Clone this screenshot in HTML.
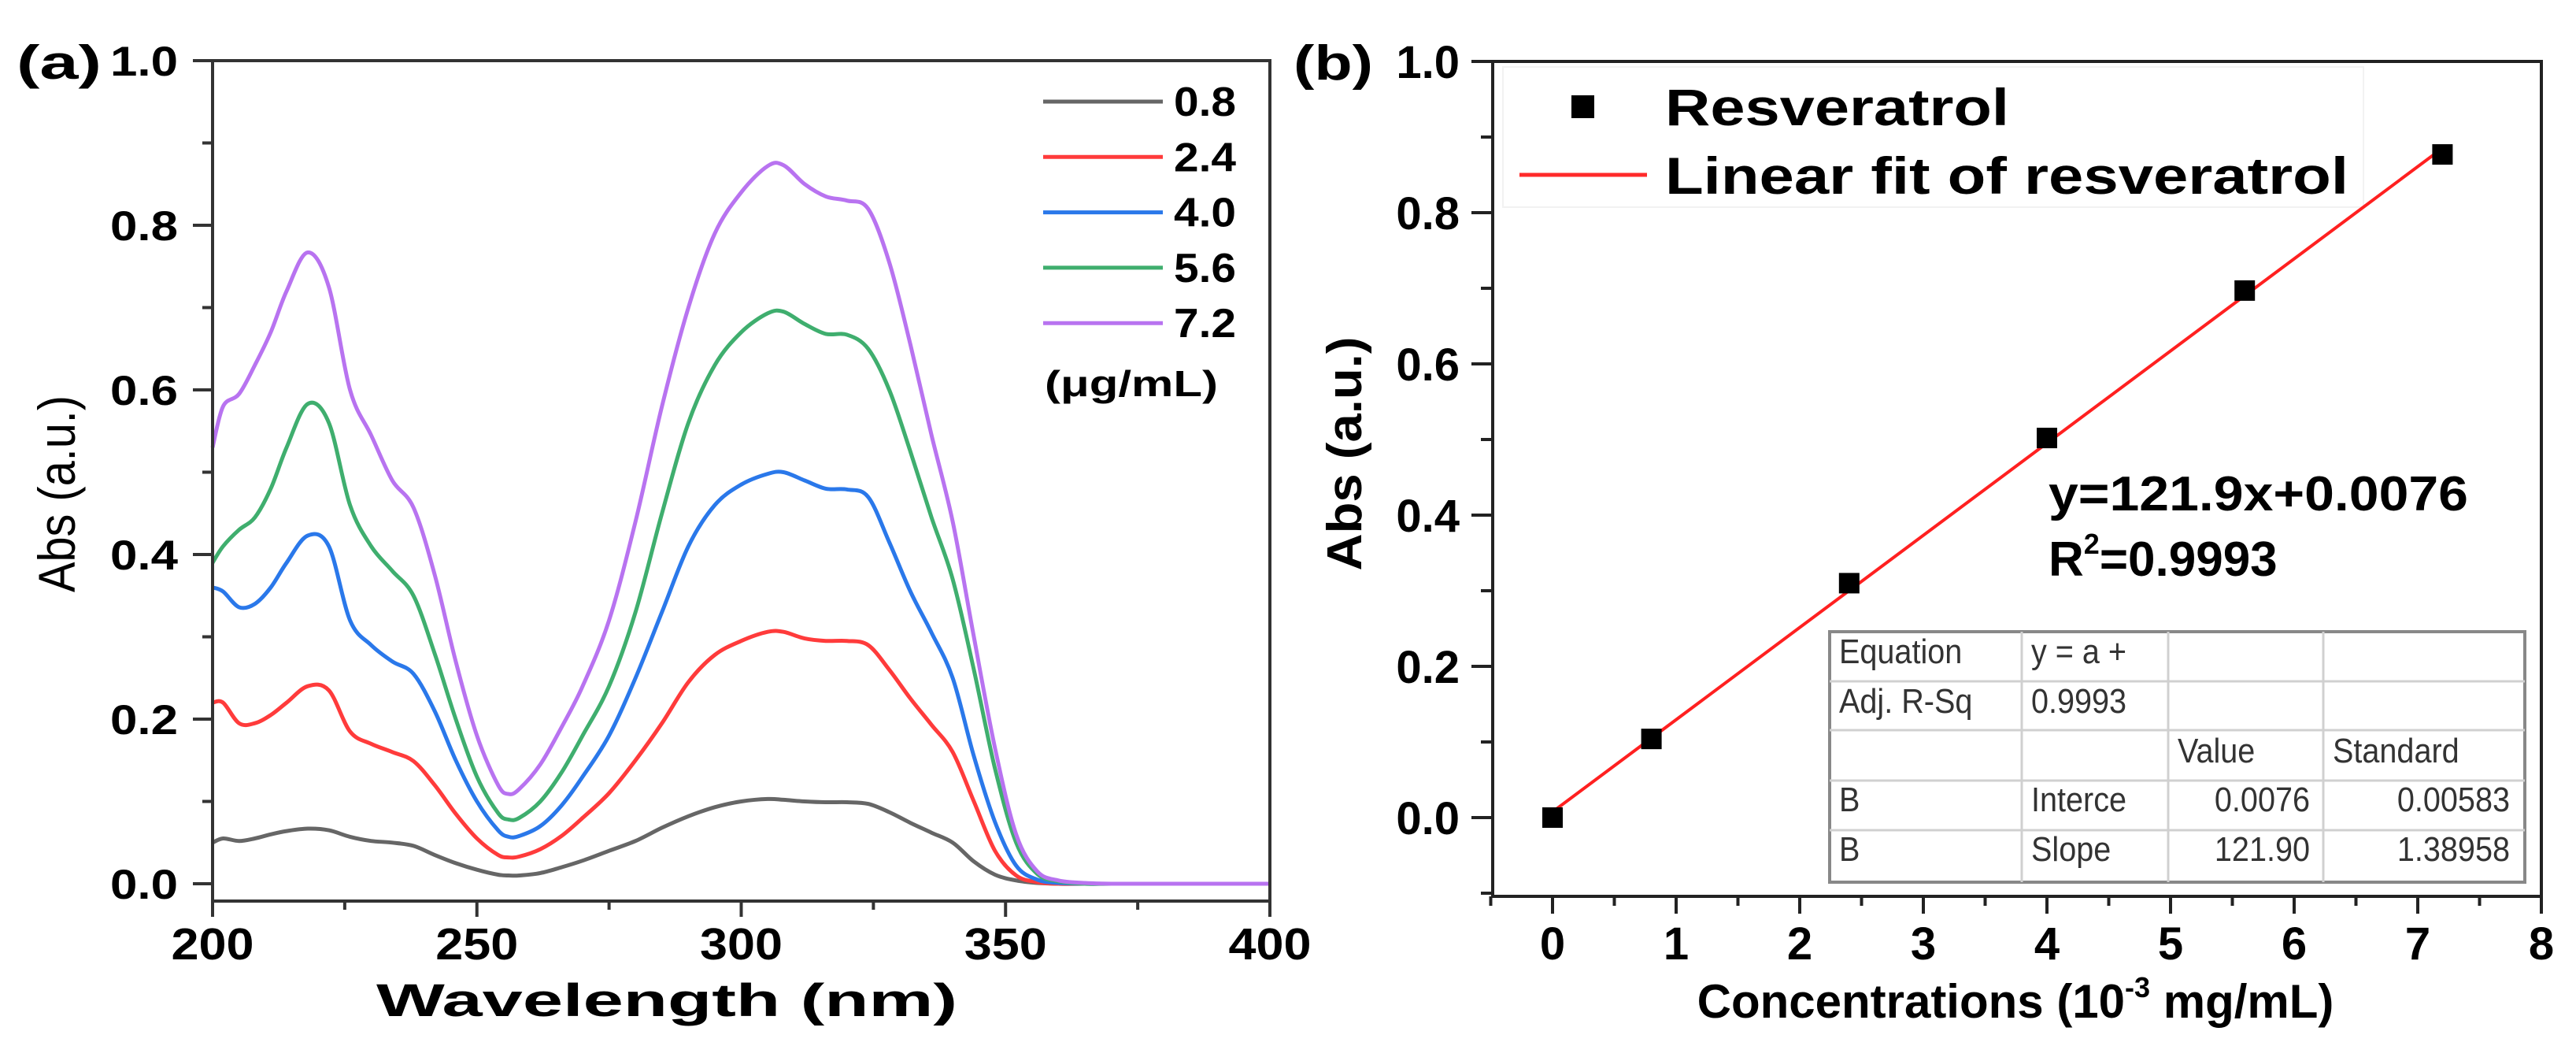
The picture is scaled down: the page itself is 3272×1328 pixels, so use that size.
<!DOCTYPE html>
<html><head><meta charset="utf-8"><style>
html,body{margin:0;padding:0;background:#fff;}
svg{display:block;font-family:"Liberation Sans",Arial,sans-serif;}
</style></head><body>
<svg id="fig" width="3272" height="1328" viewBox="0 0 3272 1328" xmlns="http://www.w3.org/2000/svg">
<g id="pa"></g>
<g id="pb"></g>
</svg>
<script>
// ---------- Panel (a) data ----------
const wavelengths = [200,202,205,208,211,214,218,222,226,230,234,238,242,246,250,254,256,258,262,266,270,275,280,285,290,295,300,305,308,312,316,320,324,328,332,336,340,344,348,352,356,360,365,370,380,390,400];
const seriesLabels = ["0.8","2.4","4.0","5.6","7.2"];
const abs08 = [0.05,0.055,0.052,0.055,0.06,0.064,0.067,0.065,0.057,0.052,0.05,0.046,0.035,0.025,0.017,0.011,0.01,0.01,0.013,0.02,0.028,0.04,0.052,0.068,0.082,0.093,0.1,0.103,0.102,0.1,0.099,0.099,0.097,0.087,0.074,0.062,0.05,0.027,0.011,0.004,0.001,0,0,0,0,0,0];
const abs24 = [0.22,0.22,0.195,0.195,0.205,0.22,0.24,0.235,0.185,0.17,0.16,0.149,0.12,0.085,0.055,0.035,0.032,0.033,0.042,0.058,0.08,0.11,0.15,0.195,0.245,0.278,0.295,0.306,0.306,0.298,0.295,0.295,0.29,0.26,0.225,0.193,0.16,0.1,0.04,0.01,0.002,0,0,0,0,0,0];
const abs40 = [0.36,0.355,0.336,0.34,0.36,0.39,0.423,0.41,0.32,0.29,0.27,0.255,0.21,0.15,0.1,0.065,0.057,0.058,0.07,0.095,0.13,0.18,0.25,0.33,0.41,0.46,0.485,0.498,0.5,0.49,0.48,0.479,0.47,0.415,0.355,0.305,0.25,0.155,0.075,0.022,0.005,0.001,0,0,0,0,0];
const abs56 = [0.39,0.41,0.43,0.445,0.48,0.53,0.583,0.56,0.46,0.41,0.38,0.35,0.28,0.2,0.13,0.086,0.078,0.08,0.1,0.135,0.18,0.24,0.33,0.45,0.56,0.63,0.67,0.693,0.695,0.68,0.668,0.667,0.65,0.6,0.525,0.445,0.37,0.26,0.14,0.05,0.012,0.003,0,0,0,0,0];
const abs72 = [0.53,0.58,0.595,0.63,0.67,0.72,0.767,0.725,0.6,0.545,0.49,0.457,0.376,0.27,0.18,0.12,0.109,0.115,0.145,0.19,0.24,0.32,0.44,0.58,0.7,0.79,0.84,0.872,0.873,0.85,0.835,0.83,0.82,0.755,0.655,0.545,0.44,0.3,0.165,0.06,0.015,0.004,0.001,0,0,0,0];
const aXTicks = [200,250,300,350,400];
const aYTicks = ["0.0","0.2","0.4","0.6","0.8","1.0"];

// ---------- Panel (b) data ----------
const concentrations = [0,0.8,2.4,4.0,5.6,7.2];
const absMeasured = [0.0,0.104,0.31,0.502,0.697,0.877];
const fitSlope = [0.1219];
const fitIntercept = [0.0076];
const bXTicks = ["0","1","2","3","4","5","6","7","8"];
const bYTicks = ["0.0","0.2","0.4","0.6","0.8","1.0"];

const NS="http://www.w3.org/2000/svg";
function mk(parent,tag,attrs,text){const e=document.createElementNS(NS,tag);for(const k in attrs)e.setAttribute(k,attrs[k]);if(text!==undefined)e.textContent=text;parent.appendChild(e);return e;}

// ================= Panel A =================
const pa=document.getElementById('pa');
const aX0=270,aX1=1613,aYtop=77,aYbot=1144;
const ax=v=>aX0+(v-200)*(aX1-aX0)/200;
const ay=v=>1122-v*1045;
const colors=["#666666","#ff3b3b","#2a78ea","#3fae6e","#b873f0"];
const allSeries=[abs08,abs24,abs40,abs56,abs72];

function smoothPath(xs,ys){
  let d="M"+xs[0].toFixed(1)+","+ys[0].toFixed(1);
  for(let i=0;i<xs.length-1;i++){
    const x0=xs[Math.max(i-1,0)],y0=ys[Math.max(i-1,0)],x1=xs[i],y1=ys[i],x2=xs[i+1],y2=ys[i+1],x3=xs[Math.min(i+2,xs.length-1)],y3=ys[Math.min(i+2,xs.length-1)];
    const c1x=x1+(x2-x0)/6,c1y=y1+(y2-y0)/6,c2x=x2-(x3-x1)/6,c2y=y2-(y3-y1)/6;
    d+=" C"+c1x.toFixed(1)+","+c1y.toFixed(1)+" "+c2x.toFixed(1)+","+c2y.toFixed(1)+" "+x2.toFixed(1)+","+y2.toFixed(1);
  }
  return d;
}
allSeries.forEach((s,i)=>{
  const p=mk(pa,'path',{d:smoothPath(wavelengths.map(ax),s.map(ay)),fill:'none',stroke:colors[i],'stroke-width':5,'stroke-linejoin':'round'});
  
  
});
let fr=mk(pa,'path',{d:`M${aX0},${aYtop} V${aYbot} H${aX1} V${aYtop} H${aX0}`,fill:'none',stroke:'#333','stroke-width':4});


for(let k=0;k<=10;k++){
  const v=k/10,y=ay(v),major=k%2===0;
  const t=mk(pa,'line',{x1:aX0-(major?25:13),x2:aX0,y1:y,y2:y,stroke:'#333','stroke-width':4});
  
  
  if(major){
    const lb=mk(pa,'text',{x:226,y:y+19,'text-anchor':'end','font-size':53,'font-weight':'bold',textLength:86,lengthAdjust:'spacingAndGlyphs'},aYTicks[k/2]);
    
    
  }
}
for(let v=200;v<=400;v+=25){
  const x=ax(v),major=v%50===0;
  const t=mk(pa,'line',{x1:x,x2:x,y1:aYbot,y2:aYbot+(major?20:11),stroke:'#333','stroke-width':4});
  
  
}
aXTicks.forEach(v=>{
  const lb=mk(pa,'text',{x:ax(v),y:1218,'text-anchor':'middle','font-size':57,'font-weight':'bold',textLength:105,lengthAdjust:'spacingAndGlyphs'},String(v));
  
  
});
let t;
t=mk(pa,'text',{x:847,y:1290,'text-anchor':'middle','font-size':58,'font-weight':'bold',textLength:738,lengthAdjust:'spacingAndGlyphs'},'Wavelength (nm)');

t=mk(pa,'text',{x:0,y:0,'text-anchor':'middle','font-size':66,transform:'translate(95,627) rotate(-90)',textLength:250,lengthAdjust:'spacingAndGlyphs'},'Abs (a.u.)');

t=mk(pa,'text',{x:21,y:100,'font-size':60,'font-weight':'bold',textLength:108,lengthAdjust:'spacingAndGlyphs'},'(a)');

seriesLabels.forEach((lab,i)=>{
  const y=129+i*70.3;
  const l=mk(pa,'line',{x1:1325,x2:1477,y1:y,y2:y,stroke:colors[i],'stroke-width':5});
  
  
  const tx=mk(pa,'text',{x:1491,y:y+18,'font-size':52,'font-weight':'bold',textLength:79,lengthAdjust:'spacingAndGlyphs'},lab);
  
  
});
t=mk(pa,'text',{x:1327,y:503,'font-size':46,'font-weight':'bold',textLength:220,lengthAdjust:'spacingAndGlyphs'},'(μg/mL)');


// ================= Panel B =================
const pb=document.getElementById('pb');
const bX0=1896,bX1=3228,bYtop=78,bYbot=1138;
const bx=v=>1972+v*157;
const by=v=>1038-v*960;
t=mk(pb,'rect',{x:1909,y:85,width:1093,height:178,fill:'none',stroke:'#f2f2f2','stroke-width':2});

t=mk(pb,'rect',{x:1996,y:121,width:29,height:29,fill:'#000'});

t=mk(pb,'text',{x:2115,y:159,'font-size':66,'font-weight':'bold',textLength:437,lengthAdjust:'spacingAndGlyphs'},'Resveratrol');

t=mk(pb,'line',{x1:1930,x2:2092,y1:222,y2:222,stroke:'#ff2a2a','stroke-width':5});

t=mk(pb,'text',{x:2115,y:246,'font-size':66,'font-weight':'bold',textLength:868,lengthAdjust:'spacingAndGlyphs'},'Linear fit of resveratrol');

const xf0=concentrations[0],xf1=concentrations[concentrations.length-1];
t=mk(pb,'line',{x1:bx(xf0),y1:by(fitSlope[0]*xf0+fitIntercept[0]),x2:bx(xf1),y2:by(fitSlope[0]*xf1+fitIntercept[0]),stroke:'#ff2020','stroke-width':4});

concentrations.forEach((c,i)=>{
  const r=mk(pb,'rect',{x:bx(c)-13,y:by(absMeasured[i])-13,width:26,height:26,fill:'#000'});
  
  
});
t=mk(pb,'rect',{x:bX0,y:bYtop,width:bX1-bX0,height:bYbot-bYtop,fill:'none',stroke:'#222','stroke-width':4});

for(let k=-1;k<=10;k++){
  const v=k/10,y=by(v),major=(k>=0&&k%2===0);
  const tk=mk(pb,'line',{x1:bX0-(major?27:15),x2:bX0,y1:y,y2:y,stroke:'#222','stroke-width':4});
  
  
  if(major){
    const lb=mk(pb,'text',{x:1854,y:y+21,'text-anchor':'end','font-size':58,'font-weight':'bold'},bYTicks[k/2]);
    
    
  }
}
for(let k=-1;k<=16;k++){
  const v=k/2,x=bx(v),major=k>=0&&k%2===0;
  const tk=mk(pb,'line',{x1:x,x2:x,y1:bYbot,y2:bYbot+(major?22:12),stroke:'#222','stroke-width':4});
  
  
}
bXTicks.forEach((lab,i)=>{
  const lb=mk(pb,'text',{x:bx(i),y:1218,'text-anchor':'middle','font-size':58,'font-weight':'bold'},lab);
  
  
});
const xt=mk(pb,'text',{x:2560,y:1292,'text-anchor':'middle','font-size':60,'font-weight':'bold'});

mk(xt,'tspan',{},'Concentrations (10');
mk(xt,'tspan',{'font-size':36,dy:-26},'-3');
mk(xt,'tspan',{dy:26},' mg/mL)');
t=mk(pb,'text',{x:0,y:0,'text-anchor':'middle','font-size':62,'font-weight':'bold',transform:'translate(1729,576) rotate(-90)',textLength:297,lengthAdjust:'spacingAndGlyphs'},'Abs (a.u.)');

t=mk(pb,'text',{x:1643,y:101,'font-size':62,'font-weight':'bold',textLength:101,lengthAdjust:'spacingAndGlyphs'},'(b)');

t=mk(pb,'text',{x:2602,y:648,'font-size':62,'font-weight':'bold',textLength:533,lengthAdjust:'spacingAndGlyphs'},'y=121.9x+0.0076');

const r2=mk(pb,'text',{x:2602,y:731,'font-size':62,'font-weight':'bold'});

mk(r2,'tspan',{},'R');mk(r2,'tspan',{'font-size':36,dy:-28},'2');mk(r2,'tspan',{dy:28},'=0.9993');
const tb=mk(pb,'g',{});

mk(tb,'rect',{x:2324,y:802,width:883,height:318,fill:'#fff',stroke:'#888','stroke-width':4});
const colX=[2568,2754,2951],rowY=[865,927,991,1054];
colX.forEach(x=>mk(tb,'line',{x1:x,x2:x,y1:802,y2:1120,stroke:'#d0d0d0','stroke-width':3}));
rowY.forEach(y=>mk(tb,'line',{x1:2324,x2:3207,y1:y,y2:y,stroke:'#d0d0d0','stroke-width':3}));
const cells=[
 [2336,842,'start','Equation'],[2580,842,'start','y = a +'],
 [2336,905,'start','Adj. R-Sq'],[2580,905,'start','0.9993'],
 [2766,968,'start','Value'],[2963,968,'start','Standard'],
 [2336,1030,'start','B'],[2580,1030,'start','Interce'],[2934,1030,'end','0.0076'],[3188,1030,'end','0.00583'],
 [2336,1093,'start','B'],[2580,1093,'start','Slope'],[2934,1093,'end','121.90'],[3188,1093,'end','1.38958']];
cells.forEach(c=>{
  const e=mk(tb,'text',{x:c[0],y:c[1],'text-anchor':c[2],'font-size':44,fill:'#333',transform:`translate(${c[0]*0.1},0) scale(0.9,1)`},c[3]);
  
  
});
</script>
</body></html>
